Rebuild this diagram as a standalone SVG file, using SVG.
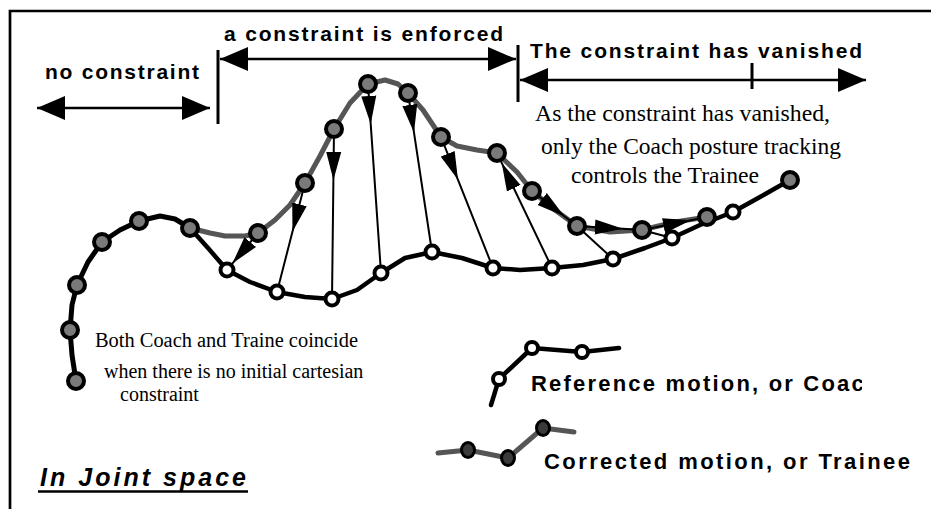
<svg xmlns="http://www.w3.org/2000/svg" width="931" height="509" viewBox="0 0 931 509">
<defs>
<style>
.hdr{font-family:"Liberation Sans",Arial,sans-serif;font-weight:bold;font-size:21px;fill:#000}
.leg{font-family:"Liberation Sans",Arial,sans-serif;font-weight:bold;font-size:22px;fill:#000}
.ttl{font-family:"Liberation Sans",Arial,sans-serif;font-weight:bold;font-style:italic;font-size:25px;fill:#000}
.ser{font-family:"Liberation Serif","Times New Roman",serif;fill:#000}
.frame{stroke:#000;stroke-width:2.7;fill:none}
.span{stroke:#000;stroke-width:2.5;fill:none}
.tick{stroke:#000;stroke-width:3;fill:none}
.shared{stroke:#000;stroke-width:5;fill:none;stroke-linejoin:round;stroke-linecap:round}
.coach{stroke:#000;stroke-width:4.5;fill:none;stroke-linejoin:round;stroke-linecap:round}
.train{stroke:#555;stroke-width:5;fill:none;stroke-linejoin:round;stroke-linecap:round}
.vec{stroke:#000;stroke-width:2;fill:none}
.gn{fill:#7a7a7a;stroke:#000;stroke-width:4}
.wn{fill:#fff;stroke:#000;stroke-width:4}
.lgn{fill:#3a3a3a;stroke:#000;stroke-width:3}
</style>
<marker id="ah" markerUnits="userSpaceOnUse" markerWidth="28" markerHeight="24" refX="28" refY="12" orient="auto-start-reverse">
<path d="M0,0 L28,12 L0,24 Z" fill="#000"/>
</marker>
<marker id="vh" markerUnits="userSpaceOnUse" markerWidth="28" markerHeight="16" refX="28" refY="8" orient="auto">
<path d="M0,0.5 L28,8 L0,15.5 Z" fill="#000"/>
</marker>
<clipPath id="clipRef"><rect x="520" y="360" width="342" height="45"/></clipPath>
</defs>

<path class="frame" d="M10,509 V11 H931"/>

<g id="phases">
<line class="span" x1="37" y1="108" x2="210" y2="108" marker-start="url(#ah)" marker-end="url(#ah)"/>
<line class="span" x1="220" y1="59" x2="516" y2="59" marker-start="url(#ah)" marker-end="url(#ah)"/>
<line class="span" x1="520" y1="80" x2="866" y2="80" marker-start="url(#ah)" marker-end="url(#ah)"/>
<line class="tick" x1="218" y1="50" x2="218" y2="124"/>
<line class="tick" x1="518" y1="45" x2="518" y2="102"/>
<line class="tick" x1="752" y1="63" x2="752" y2="89"/>
<text class="hdr" x="45" y="79" textLength="154" lengthAdjust="spacing">no constraint</text>
<text class="hdr" x="224" y="41" textLength="279" lengthAdjust="spacing">a constraint is enforced</text>
<text class="hdr" x="530" y="58" textLength="332" lengthAdjust="spacing">The constraint has vanished</text>
</g>

<g id="connectors">
<polyline class="shared" points="76,381 72,355 70,330 72,305 77,285 88,262 102,242 120,230 139,221 160,216 175,219 190,228"/>
<polyline class="train" points="190,228 210,233 225,236 245,236 258,233 275,220 290,205 305,183 320,156 334,129 350,103 368,84 385,80 398,84 408,93 423,110 441,137 457,146 477,150 497,153 517,172 532,191 555,210 577,226 610,232 642,230 675,222 707,217"/>
<polyline class="coach" points="190,228 208,248 227,270 250,282 277,292 305,297 332,299 357,290 381,273 405,258 432,252 462,258 493,268 520,270 552,268 583,265 613,259 645,248 672,238 700,225 733,212 760,197 790,180"/>
<path class="vec" d="M258,233 L232.3,263.6 L227,270" marker-mid="url(#vh)"/>
<path class="vec" d="M305,183 L292.5,231.5 L277,292" marker-mid="url(#vh)"/>
<path class="vec" d="M334,129 L333.4,180 L332,299" marker-mid="url(#vh)"/>
<path class="vec" d="M368,84 L370.7,123.9 L381,273" marker-mid="url(#vh)"/>
<path class="vec" d="M408,93 L414,132.6 L432,252" marker-mid="url(#vh)"/>
<path class="vec" d="M441,137 L458,179.8 L493,268" marker-mid="url(#vh)"/>
<path class="vec" d="M552,268 L501.7,162.9 L497,153" marker-mid="url(#vh)"/>
<path class="vec" d="M532,191 L564.3,216.2 L577,226" marker-mid="url(#vh)"/>
<path class="vec" d="M577,226 L622.9,228.8 L642,230" marker-mid="url(#vh)"/>
<path class="vec" d="M642,230 L691,220.2 L707,217" marker-mid="url(#vh)"/>
<line class="vec" x1="577" y1="226" x2="613" y2="259"/>
<line class="vec" x1="642" y1="230" x2="672" y2="238"/>
</g>

<g id="g1"><circle class="gn" cx="76" cy="381" r="8"/></g>
<g id="g2"><circle class="gn" cx="70" cy="330" r="8"/></g>
<g id="g3"><circle class="gn" cx="77" cy="285" r="8"/></g>
<g id="g4"><circle class="gn" cx="102" cy="242" r="8"/></g>
<g id="g5"><circle class="gn" cx="139" cy="221" r="8"/></g>
<g id="g6"><circle class="gn" cx="190" cy="228" r="8"/></g>
<g id="g7"><circle class="gn" cx="258" cy="233" r="8"/></g>
<g id="g8"><circle class="gn" cx="305" cy="183" r="8"/></g>
<g id="g9"><circle class="gn" cx="334" cy="129" r="8"/></g>
<g id="g10"><circle class="gn" cx="368" cy="84" r="8"/></g>
<g id="g11"><circle class="gn" cx="408" cy="93" r="8"/></g>
<g id="g12"><circle class="gn" cx="441" cy="137" r="8"/></g>
<g id="g13"><circle class="gn" cx="497" cy="153" r="8"/></g>
<g id="g14"><circle class="gn" cx="532" cy="191" r="8"/></g>
<g id="g15"><circle class="gn" cx="577" cy="226" r="8"/></g>
<g id="g16"><circle class="gn" cx="642" cy="230" r="8"/></g>
<g id="g17"><circle class="gn" cx="707" cy="217" r="8"/></g>
<g id="g18"><circle class="gn" cx="790" cy="180" r="8"/></g>

<g id="w1"><circle class="wn" cx="227" cy="270" r="6.5"/></g>
<g id="w2"><circle class="wn" cx="277" cy="292" r="6.5"/></g>
<g id="w3"><circle class="wn" cx="332" cy="299" r="6.5"/></g>
<g id="w4"><circle class="wn" cx="381" cy="273" r="6.5"/></g>
<g id="w5"><circle class="wn" cx="432" cy="252" r="6.5"/></g>
<g id="w6"><circle class="wn" cx="493" cy="268" r="6.5"/></g>
<g id="w7"><circle class="wn" cx="552" cy="268" r="6.5"/></g>
<g id="w8"><circle class="wn" cx="613" cy="259" r="6.5"/></g>
<g id="w9"><circle class="wn" cx="672" cy="238" r="6.5"/></g>
<g id="w10"><circle class="wn" cx="733" cy="212" r="6.5"/></g>

<g id="note-vanished">
<text class="ser" font-size="23.5" x="535" y="121" textLength="295" lengthAdjust="spacingAndGlyphs">As the constraint has vanished,</text>
<text class="ser" font-size="23.5" x="541" y="154" textLength="300" lengthAdjust="spacingAndGlyphs">only the Coach posture tracking</text>
<text class="ser" font-size="23.5" x="571" y="183" textLength="188" lengthAdjust="spacingAndGlyphs">controls the Trainee</text>
</g>

<g id="note-coincide">
<text class="ser" font-size="20" x="95" y="347" textLength="263" lengthAdjust="spacingAndGlyphs">Both Coach and Traine coincide</text>
<text class="ser" font-size="20" x="104" y="378">when there is no initial cartesian</text>
<text class="ser" font-size="20" x="120" y="401">constraint</text>
</g>

<g id="legend-reference">
<polyline class="coach" stroke-width="4" points="491,405 499,379 532,348 582,352 619,348"/>
<circle class="wn" stroke-width="3.5" cx="499" cy="379" r="6"/>
<circle class="wn" stroke-width="3.5" cx="532" cy="348" r="6"/>
<circle class="wn" stroke-width="3.5" cx="582" cy="352" r="6"/>
<text class="leg" x="531" y="391" letter-spacing="2.2" clip-path="url(#clipRef)">Reference motion, or Coac</text>
</g>

<g id="legend-corrected">
<polyline class="train" stroke-width="4" stroke-linecap="butt" points="438,453 468,450 508,458 543,428 574,432"/>
<ellipse class="lgn" cx="468" cy="450" rx="6.5" ry="7.5"/>
<ellipse class="lgn" cx="508" cy="458" rx="6.5" ry="7.5"/>
<ellipse class="lgn" cx="543" cy="428" rx="6.5" ry="7.5"/>
<text class="leg" x="544" y="469" textLength="366" lengthAdjust="spacing">Corrected motion, or Trainee</text>
</g>

<g id="title">
<text class="ttl" x="40" y="486" textLength="206" lengthAdjust="spacing">In Joint space</text>
<line x1="38" y1="491.5" x2="248" y2="491.5" stroke="#000" stroke-width="2.5"/>
</g>
</svg>
